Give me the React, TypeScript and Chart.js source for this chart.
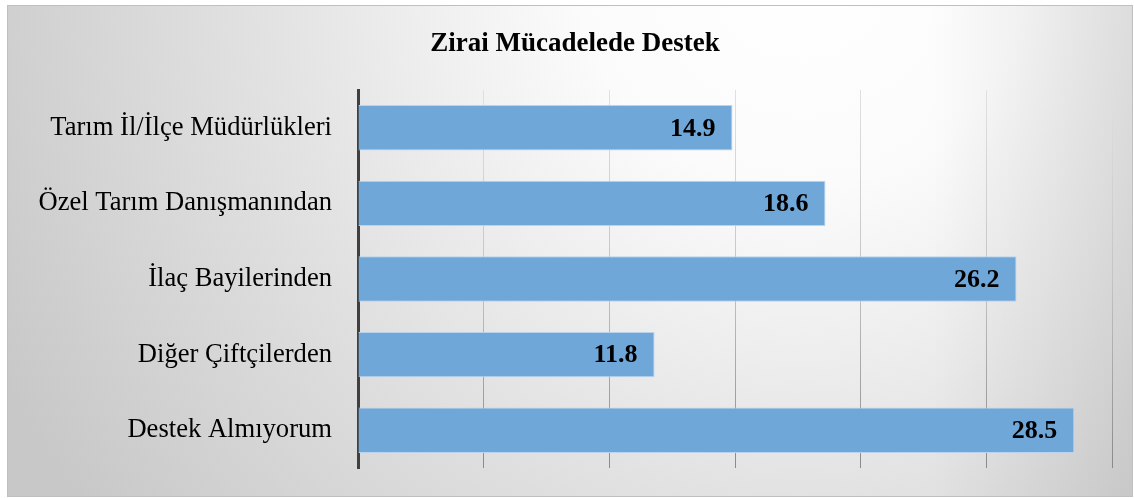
import React, { useEffect, useRef } from "react";
import { Chart, registerables } from "chart.js";

Chart.register(...registerables);

const chartTitle = "Zirai Mücadelede Destek";
const categories = [
  "Tarım İl/İlçe Müdürlükleri",
  "Özel Tarım Danışmanından",
  "İlaç Bayilerinden",
  "Diğer Çiftçilerden",
  "Destek Almıyorum",
];
const values = [14.9, 18.6, 26.2, 11.8, 28.5];
const xMin = 0;
const xMax = 30;
const xStep = 5;

const SERIF = '"Liberation Serif", "Times New Roman", serif';

const W = 1134;
const H = 498;

const framePlugin = {
  id: "frame",
  beforeDraw(chart: any) {
    const ctx = chart.ctx;
    ctx.save();
    ctx.fillStyle = "#ffffff";
    ctx.fillRect(0, 0, W, H);
    const fx = 7, fy = 5, fw = 1126, fh = 492;
    const g = ctx.createRadialGradient(800, -40, 0, 800, -40, 900);
    g.addColorStop(0, "#ffffff");
    g.addColorStop(0.25, "#fbfbfb");
    g.addColorStop(0.6, "#e2e2e2");
    g.addColorStop(1, "#c8c8c8");
    ctx.fillStyle = g;
    ctx.fillRect(fx, fy, fw, fh);
    const r = ctx.createLinearGradient(930, 0, fx + fw, 0);
    r.addColorStop(0, "rgba(0,0,0,0)");
    r.addColorStop(1, "rgba(0,0,0,0.09)");
    ctx.fillStyle = r;
    ctx.fillRect(930, fy, fx + fw - 930, fh);
    ctx.strokeStyle = "#c0c0c0";
    ctx.lineWidth = 1;
    ctx.strokeRect(fx + 0.5, fy + 0.5, fw - 1, fh - 1);
    // title
    ctx.fillStyle = "#000000";
    ctx.font = `bold 27px ${SERIF}`;
    ctx.textAlign = "center";
    ctx.textBaseline = "middle";
    ctx.fillText(chartTitle, 575, 44);
    ctx.restore();
  },
  afterDatasetsDraw(chart: any) {
    const ctx = chart.ctx;
    const meta = chart.getDatasetMeta(0);
    ctx.save();
    ctx.fillStyle = "#000000";
    ctx.font = `bold 26px ${SERIF}`;
    ctx.textAlign = "right";
    ctx.textBaseline = "middle";
    meta.data.forEach((bar: any, i: number) => {
      ctx.fillText(values[i].toFixed(1), bar.x - 17, bar.y + 1);
    });
    ctx.restore();
  },
};

export default function App() {
  const ref = useRef<HTMLCanvasElement | null>(null);
  useEffect(() => {
    document.body.style.margin = "0";
    const canvas = ref.current!;
    const chart = new Chart(canvas, {
      type: "bar",
      data: {
        labels: categories,
        datasets: [
          {
            data: values,
            backgroundColor: "#70a7d9",
            borderColor: "#b9d3ee",
            borderWidth: 1,
            barPercentage: 0.6,
            categoryPercentage: 1,
          },
        ],
      },
      options: {
        indexAxis: "y",
        responsive: false,
        animation: false,
        devicePixelRatio: 1,
        layout: { padding: { left: 7, top: 90, right: 22, bottom: 30 } },
        plugins: {
          legend: { display: false },
          title: { display: false },
          tooltip: { enabled: false },
        },
        scales: {
          x: {
            min: xMin,
            max: xMax,
            ticks: { display: false, stepSize: xStep },
            border: { display: false },
            grid: {
              drawTicks: false,
              lineWidth: 1,
              color: (c: any) => {
                const ch = c.chart;
                const area = ch.chartArea;
                if (!area) return "#c8c8c8";
                const gr = ch.ctx.createLinearGradient(0, area.top, 0, area.bottom);
                gr.addColorStop(0, "#e0e0e0");
                gr.addColorStop(0.5, "#c4c4c4");
                gr.addColorStop(1, "#8a8a8a");
                return gr;
              },
            },
            afterFit: (scale: any) => {
              scale.height = 0;
            },
          },
          y: {
            grid: { display: false, drawTicks: false },
            border: { display: true, color: "#404040", width: 3 },
            ticks: {
              padding: 26,
              color: "#000000",
              font: { family: SERIF, size: 26.6 },
            },
            afterFit: (scale: any) => {
              scale.width = 358 - 7;
              scale.paddingTop = 0;
              scale.paddingBottom = 0;
            },
          },
        },
      },
      plugins: [framePlugin],
    } as any);
    return () => chart.destroy();
  }, []);
  return <canvas ref={ref} width={W} height={H} style={{ display: "block" }} />;
}
